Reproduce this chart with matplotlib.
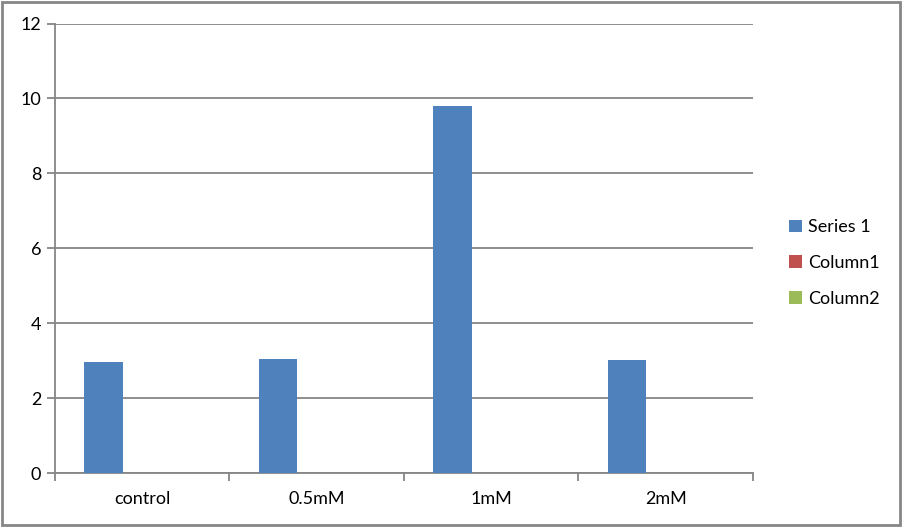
import numpy as np
import matplotlib.pyplot as plt
from matplotlib.patches import Rectangle

plt.rcParams['font.family'] = ['Lato', 'DejaVu Sans']

# data
categories = ["control", "0.5mM", "1mM", "2mM"]
series_names = ["Series 1", "Column1", "Column2"]
series_1 = [2.96, 3.04, 9.79, 3.02]
column_1 = [0, 0, 0, 0]
column_2 = [0, 0, 0, 0]
colors = ["#4f81bd", "#c0504d", "#9bbb59"]
grey = "#868686"
fs = 13

fig = plt.figure(figsize=(9.02, 5.27), dpi=100)
ax = fig.add_axes([55/902, 1 - 473/527, (753 - 55)/902, (473 - 23.5)/527])

n = len(series_names)
gap = 1.5
bw = 1.0 / (n + gap)
x = np.arange(len(categories))
for j, (name, vals) in enumerate(zip(series_names, [series_1, column_1, column_2])):
    pos = x + (gap / 2 + j + 0.5) * bw
    ax.bar(pos, vals, width=bw, color=colors[j], label=name, zorder=3)

ax.set_xlim(0, len(categories))
ax.set_ylim(0, 12)
ax.set_yticks(range(0, 13, 2))
ax.yaxis.grid(True, color=grey, linewidth=1.3, zorder=0)

ax.set_xticks(x + 0.5)
ax.set_xticklabels(categories)
ax.set_xticks(np.arange(len(categories) + 1), minor=True)
ax.tick_params(axis='x', which='major', length=0, pad=13, labelsize=fs)
ax.tick_params(axis='x', which='minor', length=6, color=grey, width=1.3)
ax.tick_params(axis='y', length=6, color=grey, width=1.3, pad=4, labelsize=fs)

for s in ['top', 'right']:
    ax.spines[s].set_visible(False)
for s in ['left', 'bottom']:
    ax.spines[s].set_color(grey)
    ax.spines[s].set_linewidth(1.3)

leg = fig.legend(loc='center left', bbox_to_anchor=(773/902, 1 - 263/527),
                 frameon=False, fontsize=fs, handlelength=0.7, handleheight=0.7,
                 handletextpad=0.35, labelspacing=1.1)

# outer frame
fig.patches.append(Rectangle((0.002, 0.003), 0.996, 0.994, transform=fig.transFigure,
                             fill=False, edgecolor=grey, linewidth=2))

fig.savefig("out.png", dpi=100)
